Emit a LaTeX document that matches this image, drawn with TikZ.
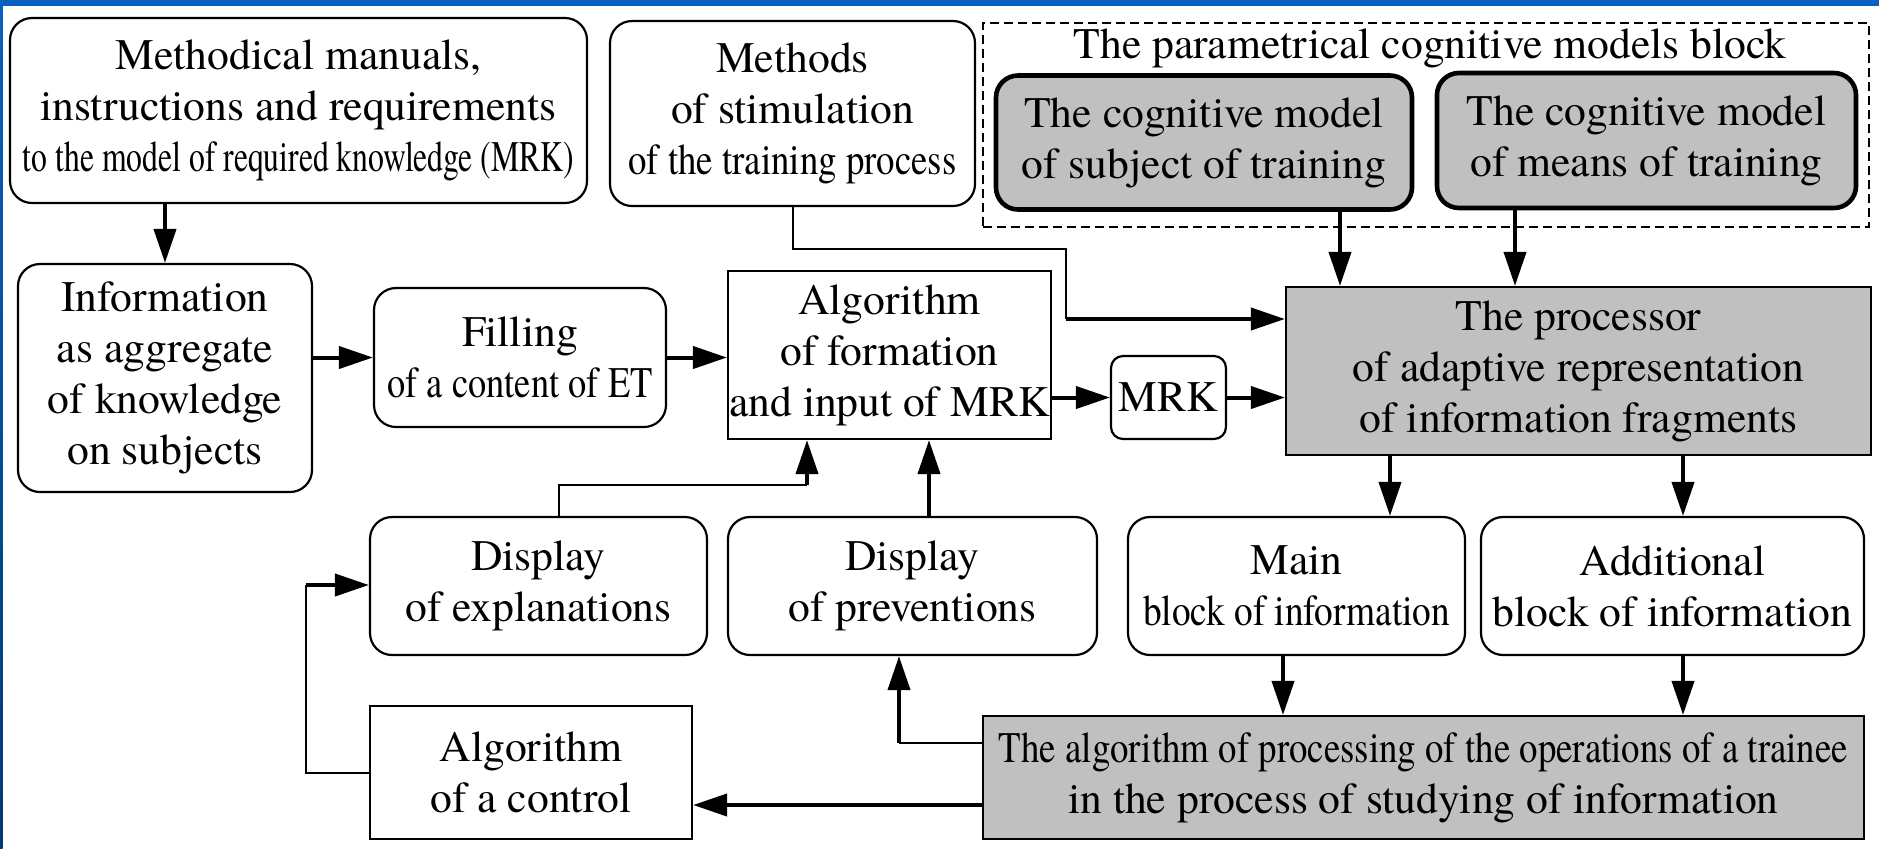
\documentclass[tikz,border=0pt]{standalone}
\usepackage{fontspec}
\setmainfont{texgyretermes}[Extension=.otf, UprightFont=*-regular, BoldFont=*-bold, ItalicFont=*-italic, BoldItalicFont=*-bolditalic]
\newfontfamily\tnr{texgyretermes}[Extension=.otf, UprightFont=*-regular]
\usepackage{graphicx}
\usetikzlibrary{arrows.meta}
\definecolor{boxgray}{HTML}{C0C0C0}
\definecolor{bandblue}{HTML}{0A60C0}
\definecolor{navyblue}{HTML}{003A70}
\newcommand{\sqz}[2]{\resizebox{#1}{\height}{#2}}
\begin{document}
\begin{tikzpicture}[x=0.5pt,y=-0.5pt,
  every node/.style={font=\tnr\fontsize{21.8pt}{25.5pt}\selectfont, align=center, inner sep=0pt},
  rbox/.style={draw, line width=1.1pt, rounded corners=11pt, fill=white},
  sbox/.style={draw, line width=1.1pt, fill=white},
  gbox/.style={draw, line width=1.1pt, fill=boxgray},
  cbox/.style={draw, line width=2.3pt, rounded corners=11pt, fill=boxgray},
  grpbox/.style={draw, line width=1.4pt, dash pattern=on 4.5pt off 2.5pt},
  thk/.style={line width=2pt, -{Triangle[length=17pt,width=11pt]}},
  thn/.style={line width=1pt},
]
\useasboundingbox (0,0) rectangle (1879,848);
\fill[white] (0,0) rectangle (1879,848);
\fill[bandblue] (0,0) rectangle (1879,6);
\shade[top color=bandblue, bottom color=navyblue] (0,0) rectangle (2.5,848);

% top row
\node[rbox, minimum width=288.5pt, minimum height=92.5pt] (meth) at (298.5,110.5)
  {Methodical manuals,\\ instructions and requirements\\ \sqz{275.5pt}{to the model of required knowledge (MRK)}};
\node[rbox, minimum width=182.5pt, minimum height=92.5pt] (stim) at (792.5,113.5)
  {Methods\\ of stimulation\\ \sqz{164pt}{of the training process}};
\node[grpbox, minimum width=443pt, minimum height=102pt] (grp) at (1426,125) {};
\node[anchor=base] (ttl) at (1430,58) {The parametrical cognitive models block};
\node[cbox, minimum width=208pt, minimum height=67pt] (subj) at (1204,142.5)
  {The cognitive model\\ of subject of training};
\node[cbox, minimum width=209.5pt, minimum height=67.5pt] (means) at (1646.5,140.5)
  {The cognitive model\\ of means of training};

% middle row
\node[rbox, minimum width=147pt, minimum height=114pt] (info) at (165,378)
  {Information\\ as aggregate\\ of knowledge\\ on subjects};
\node[rbox, minimum width=146pt, minimum height=69.5pt] (fill) at (520,357.5)
  {Filling\\ \sqz{132.5pt}{of a content of ET}};
\node[sbox, minimum width=161.5pt, minimum height=84pt] (alg) at (889.5,355)
  {Algorithm\\ of formation\\ and input of MRK};
\node[rbox, rounded corners=6pt, minimum width=57.5pt, minimum height=41.5pt] (mrk) at (1168.5,397.5) {MRK};
\node[gbox, minimum width=292.5pt, minimum height=84pt] (proc) at (1578.5,371)
  {The processor\\ of adaptive representation\\ of information fragments};

% lower row
\node[rbox, minimum width=168.5pt, minimum height=69pt] (dexp) at (538.5,586)
  {Display\\ of explanations};
\node[rbox, minimum width=184.5pt, minimum height=69pt] (dprev) at (912.5,586)
  {Display\\ of preventions};
\node[rbox, minimum width=168.5pt, minimum height=69pt] (mainb) at (1296.5,586)
  {Main\\ \sqz{153.5pt}{block of information}};
\node[rbox, minimum width=191.5pt, minimum height=69pt] (addb) at (1672.5,586)
  {Additional\\ block of information};

% bottom row
\node[sbox, minimum width=161pt, minimum height=66.5pt] (ctrl) at (531,772.5)
  {Algorithm\\ of a control};
\node[gbox, minimum width=440.5pt, minimum height=61.5pt] (palg) at (1423.5,777.5)
  {\sqz{424.5pt}{The algorithm of processing of the operations of a trainee}\\ in the process of studying of information};

% connectors
\draw[thk] (meth.south -| info.north) -- (info.north);
\draw[thk] (info.east |- fill.west) -- (fill.west);
\draw[thk] (fill.east) -- (fill.east -| alg.west);
\draw[thk] (alg.east |- mrk.west) -- (mrk.west);
\draw[thk] (mrk.east) -- (mrk.east -| proc.west);

\coordinate (sbend) at (1066,249);
\coordinate (sin) at (1066,319);
\draw[thn] (stim.south) |- (sbend) -- (sin);
\draw[thk] (sin) -- (sin -| proc.west);

\draw[thk] ([xshift=68pt]subj.south) -- ([xshift=68pt]subj.south |- proc.north);
\draw[thk] ([xshift=-65.75pt]means.south) -- ([xshift=-65.75pt]means.south |- proc.north);

\draw[thk] ([xshift=-94.25pt]proc.south) -- ([xshift=-94.25pt]proc.south |- mainb.north);
\draw[thk] ([xshift=5.25pt]addb.north |- proc.south) -- ([xshift=5.25pt]addb.north);
\draw[thk] ([xshift=-6.75pt]mainb.south) -- ([xshift=-6.75pt]mainb.south |- palg.north);
\draw[thk] ([xshift=5.25pt]addb.south) -- ([xshift=5.25pt]addb.south |- palg.north);

\draw[thk] ([yshift=-16.25pt]ctrl.east -| palg.west) -- ([yshift=-16.25pt]ctrl.east);

\coordinate (pbend) at (899,743);
\draw[thn] (pbend -| palg.west) -- (pbend);
\draw[thk] (pbend) -- (pbend |- dprev.south);

\draw[thk] ([xshift=8.25pt]dprev.north) -- ([xshift=8.25pt]dprev.north |- alg.south);

\coordinate (etop) at (559,485);
\coordinate (ebend) at (807,485);
\draw[thn] (etop |- dexp.north) -- (etop) -- (ebend);
\draw[thk] (ebend) -- (ebend |- alg.south);

\coordinate (cbend) at (306,773);
\coordinate (cup) at (306,585);
\draw[thn] (cbend -| ctrl.west) -- (cbend) -- (cup);
\draw[thk] (cup) -- (cup -| dexp.west);
\end{tikzpicture}
\end{document}
